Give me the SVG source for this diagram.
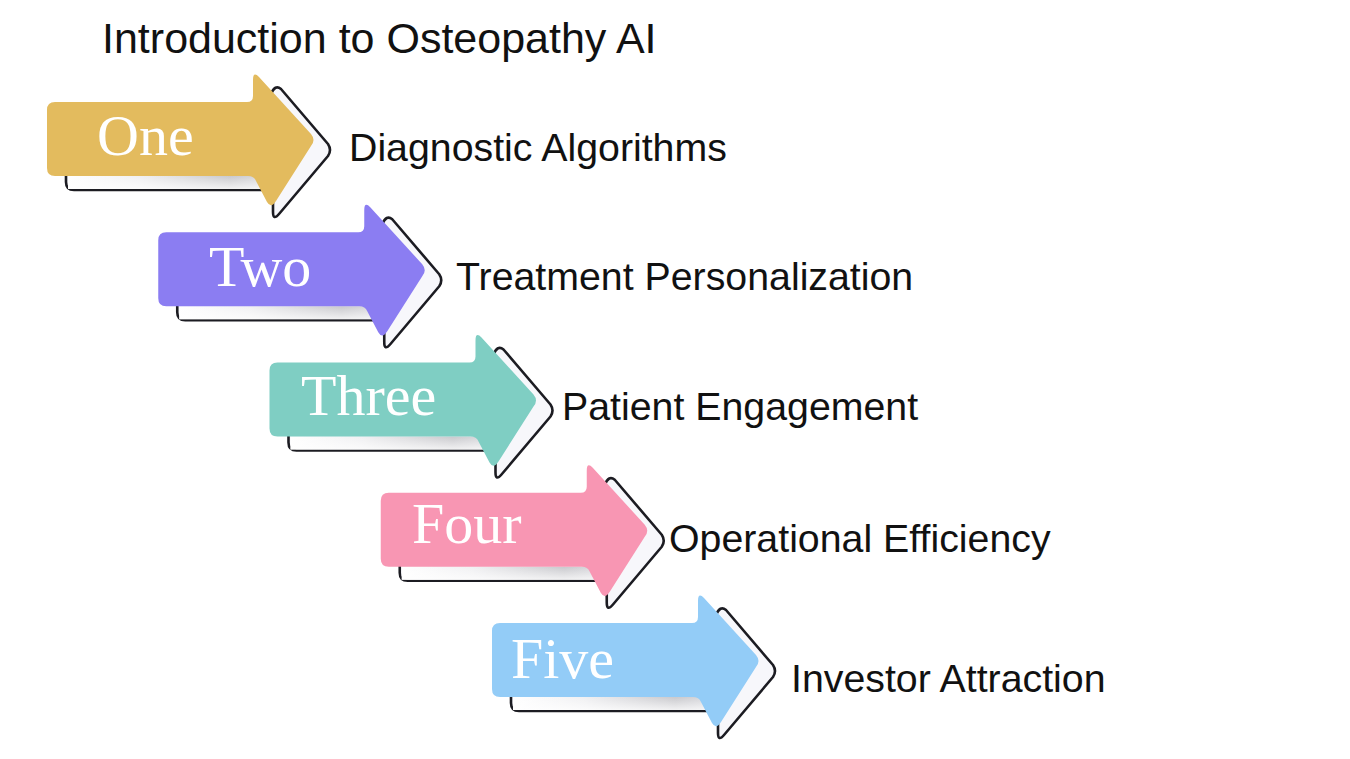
<svg xmlns="http://www.w3.org/2000/svg" xmlns:xlink="http://www.w3.org/1999/xlink" width="1350" height="759" viewBox="0 0 1350 759">
<style>
.title{font-family:"Liberation Sans",Arial,sans-serif;font-size:43px;fill:#111}
.label{font-family:"Liberation Sans",Arial,sans-serif;font-size:39.3px;fill:#111}
.num{font-family:"Liberation Serif","Times New Roman",serif;font-size:58px;fill:#fff}
.outline{fill:#f7f7fb;stroke:#1c1c22;stroke-width:2.6;stroke-linejoin:round}
</style>
<defs>
<linearGradient id="shadeH" x1="0" y1="0" x2="1" y2="0">
<stop offset="0" stop-color="#ffffff"/>
<stop offset="0.35" stop-color="#f0f0f2"/>
<stop offset="0.8" stop-color="#c9c9cd"/>
<stop offset="1" stop-color="#dcdce0"/>
</linearGradient>
<linearGradient id="shadeV" x1="0" y1="0" x2="0" y2="1">
<stop offset="0" stop-color="#ffffff" stop-opacity="0"/>
<stop offset="1" stop-color="#ffffff" stop-opacity="0.75"/>
</linearGradient>
<path id="outlineShape" d="M 271,94 Q 275,84 281,89 L 328,144 Q 332,150 328,156 L 279,214 Q 273,221 273,212 V 190 H 74 Q 66,190 66,182 V 170 H 271 Z"/>
<g id="shade">
<rect x="68" y="176" width="203" height="13" fill="url(#shadeH)"/>
<rect x="68" y="176" width="203" height="13" fill="url(#shadeV)"/>
</g>
<path id="arrowShape" d="M 55,102 H 247 Q 253,102 253,96 V 80 Q 253,71 259,77 L 311,134 Q 316,140 311,146 L 276,201 Q 271,209 267,202 L 256,181 Q 254,176 248,176 H 55 Q 47,176 47,168 V 110 Q 47,102 55,102 Z"/>
</defs>

<text class="title" x="102" y="53">Introduction to Osteopathy AI</text>

<g id="node-one">
<use xlink:href="#outlineShape" class="outline"/>
<use xlink:href="#shade"/>
<use xlink:href="#arrowShape" fill="#E3BB5E"/>
<text class="num" x="97" y="155">One</text>
<text class="label" x="349" y="161">Diagnostic Algorithms</text>
</g>

<g id="node-two">
<g transform="translate(111.25,130.25)">
<use xlink:href="#outlineShape" class="outline"/>
<use xlink:href="#shade"/>
<use xlink:href="#arrowShape" fill="#8B7DF2"/>
</g>
<text class="num" x="209" y="286">Two</text>
<text class="label" x="456" y="290">Treatment Personalization</text>
</g>

<g id="node-three">
<g transform="translate(222.5,260.5)">
<use xlink:href="#outlineShape" class="outline"/>
<use xlink:href="#shade"/>
<use xlink:href="#arrowShape" fill="#7FCEC3"/>
</g>
<text class="num" x="301" y="415">Three</text>
<text class="label" x="562" y="420">Patient Engagement</text>
</g>

<g id="node-four">
<g transform="translate(333.75,390.75)">
<use xlink:href="#outlineShape" class="outline"/>
<use xlink:href="#shade"/>
<use xlink:href="#arrowShape" fill="#F896B3"/>
</g>
<text class="num" x="412" y="543">Four</text>
<text class="label" x="669" y="552">Operational Efficiency</text>
</g>

<g id="node-five">
<g transform="translate(445,521)">
<use xlink:href="#outlineShape" class="outline"/>
<use xlink:href="#shade"/>
<use xlink:href="#arrowShape" fill="#93CCF7"/>
</g>
<text class="num" x="511" y="678">Five</text>
<text class="label" x="791" y="692">Investor Attraction</text>
</g>
</svg>
